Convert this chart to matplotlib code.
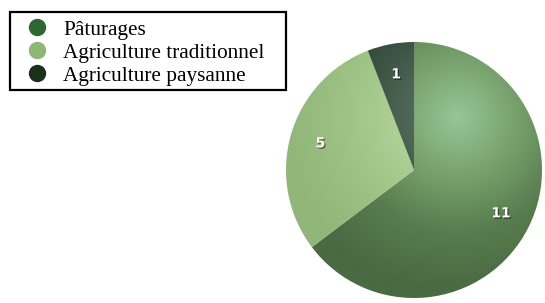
import matplotlib

matplotlib.use("Agg")
import matplotlib.pyplot as plt  # noqa: E402
import matplotlib.patheffects as pe
import numpy as np
from matplotlib.colors import LinearSegmentedColormap
from matplotlib.lines import Line2D
from matplotlib.patches import Rectangle

labels = ["Pâturages", "Agriculture traditionnel", "Agriculture paysanne"]
values = [11, 5, 1]
legend_colors = ["#2f6632", "#8fb577", "#1a3019"]
# light -> dark shading for each slice
shades = [
    ["#96c796", "#78a26d", "#587c4e", "#4a6a43"],
    ["#badd9f", "#aed197", "#9dc284", "#92b57a"],
    ["#5e7867", "#4a6352", "#34493b", "#2a3d30"],
]

fig = plt.figure(figsize=(5.45, 3.03), dpi=100)
W, H = 545, 303
cx, cy, r = 414, 170, 128
ax = fig.add_axes([(cx - r) / W, (H - cy - r) / H, 2 * r / W, 2 * r / H])

wedges, _ = ax.pie(
    values,
    startangle=90,
    counterclock=False,
    radius=1.0,
    colors=["none"] * 3,
    wedgeprops={"linewidth": 0},
)

# radial highlight shading, clipped to each wedge
n = 400
xs = np.linspace(-1, 1, n)
gx, gy = np.meshgrid(xs, xs)
dist = np.hypot(gx - 0.34, gy - 0.41)
dist = np.clip(dist / 1.35, 0, 1)
for wedge, shade in zip(wedges, shades):
    cmap = LinearSegmentedColormap.from_list("s", shade)
    im = ax.imshow(dist, cmap=cmap, extent=(-1, 1, -1, 1), origin="lower",
                   vmin=0, vmax=1, interpolation="bilinear", zorder=1)
    im.set_clip_path(wedge)

# value labels
total = sum(values)
angle = 90.0
shadow = [pe.withSimplePatchShadow(offset=(1, -1), shadow_rgbFace="black", alpha=0.45)]
for v in values:
    span = v / total * 360
    mid = np.deg2rad(angle - span / 2)
    angle -= span
    d = 0.76
    ax.text(d * np.cos(mid), d * np.sin(mid), str(v), ha="center", va="center",
            fontsize=10, fontweight="bold", color="white", zorder=4,
            path_effects=shadow)
ax.set_xlim(-1.0, 1.0)
ax.set_ylim(-1.0, 1.0)
ax.set_aspect("equal")
ax.axis("off")

handles = [
    Line2D([0], [0], marker="o", linestyle="none", markersize=11.5,
           markerfacecolor=c, markeredgecolor=c)
    for c in legend_colors
]
leg = fig.legend(
    handles, labels,
    loc="upper left",
    bbox_to_anchor=(26 / W, 1 - 20 / H),
    prop={"family": "Liberation Serif", "size": 15.3},
    frameon=False,
    borderpad=0,
    labelspacing=0.14,
    handletextpad=0.75,
    handlelength=1.0,
    borderaxespad=0,
)
# legend box drawn separately (wider side padding than the legend allows)
fig.patches.append(Rectangle((10 / W, 1 - 90 / H), 276 / W, 78 / H,
                             transform=fig.transFigure, fill=False,
                             edgecolor="black", linewidth=1.6))

fig.savefig("out.png", dpi=100)
